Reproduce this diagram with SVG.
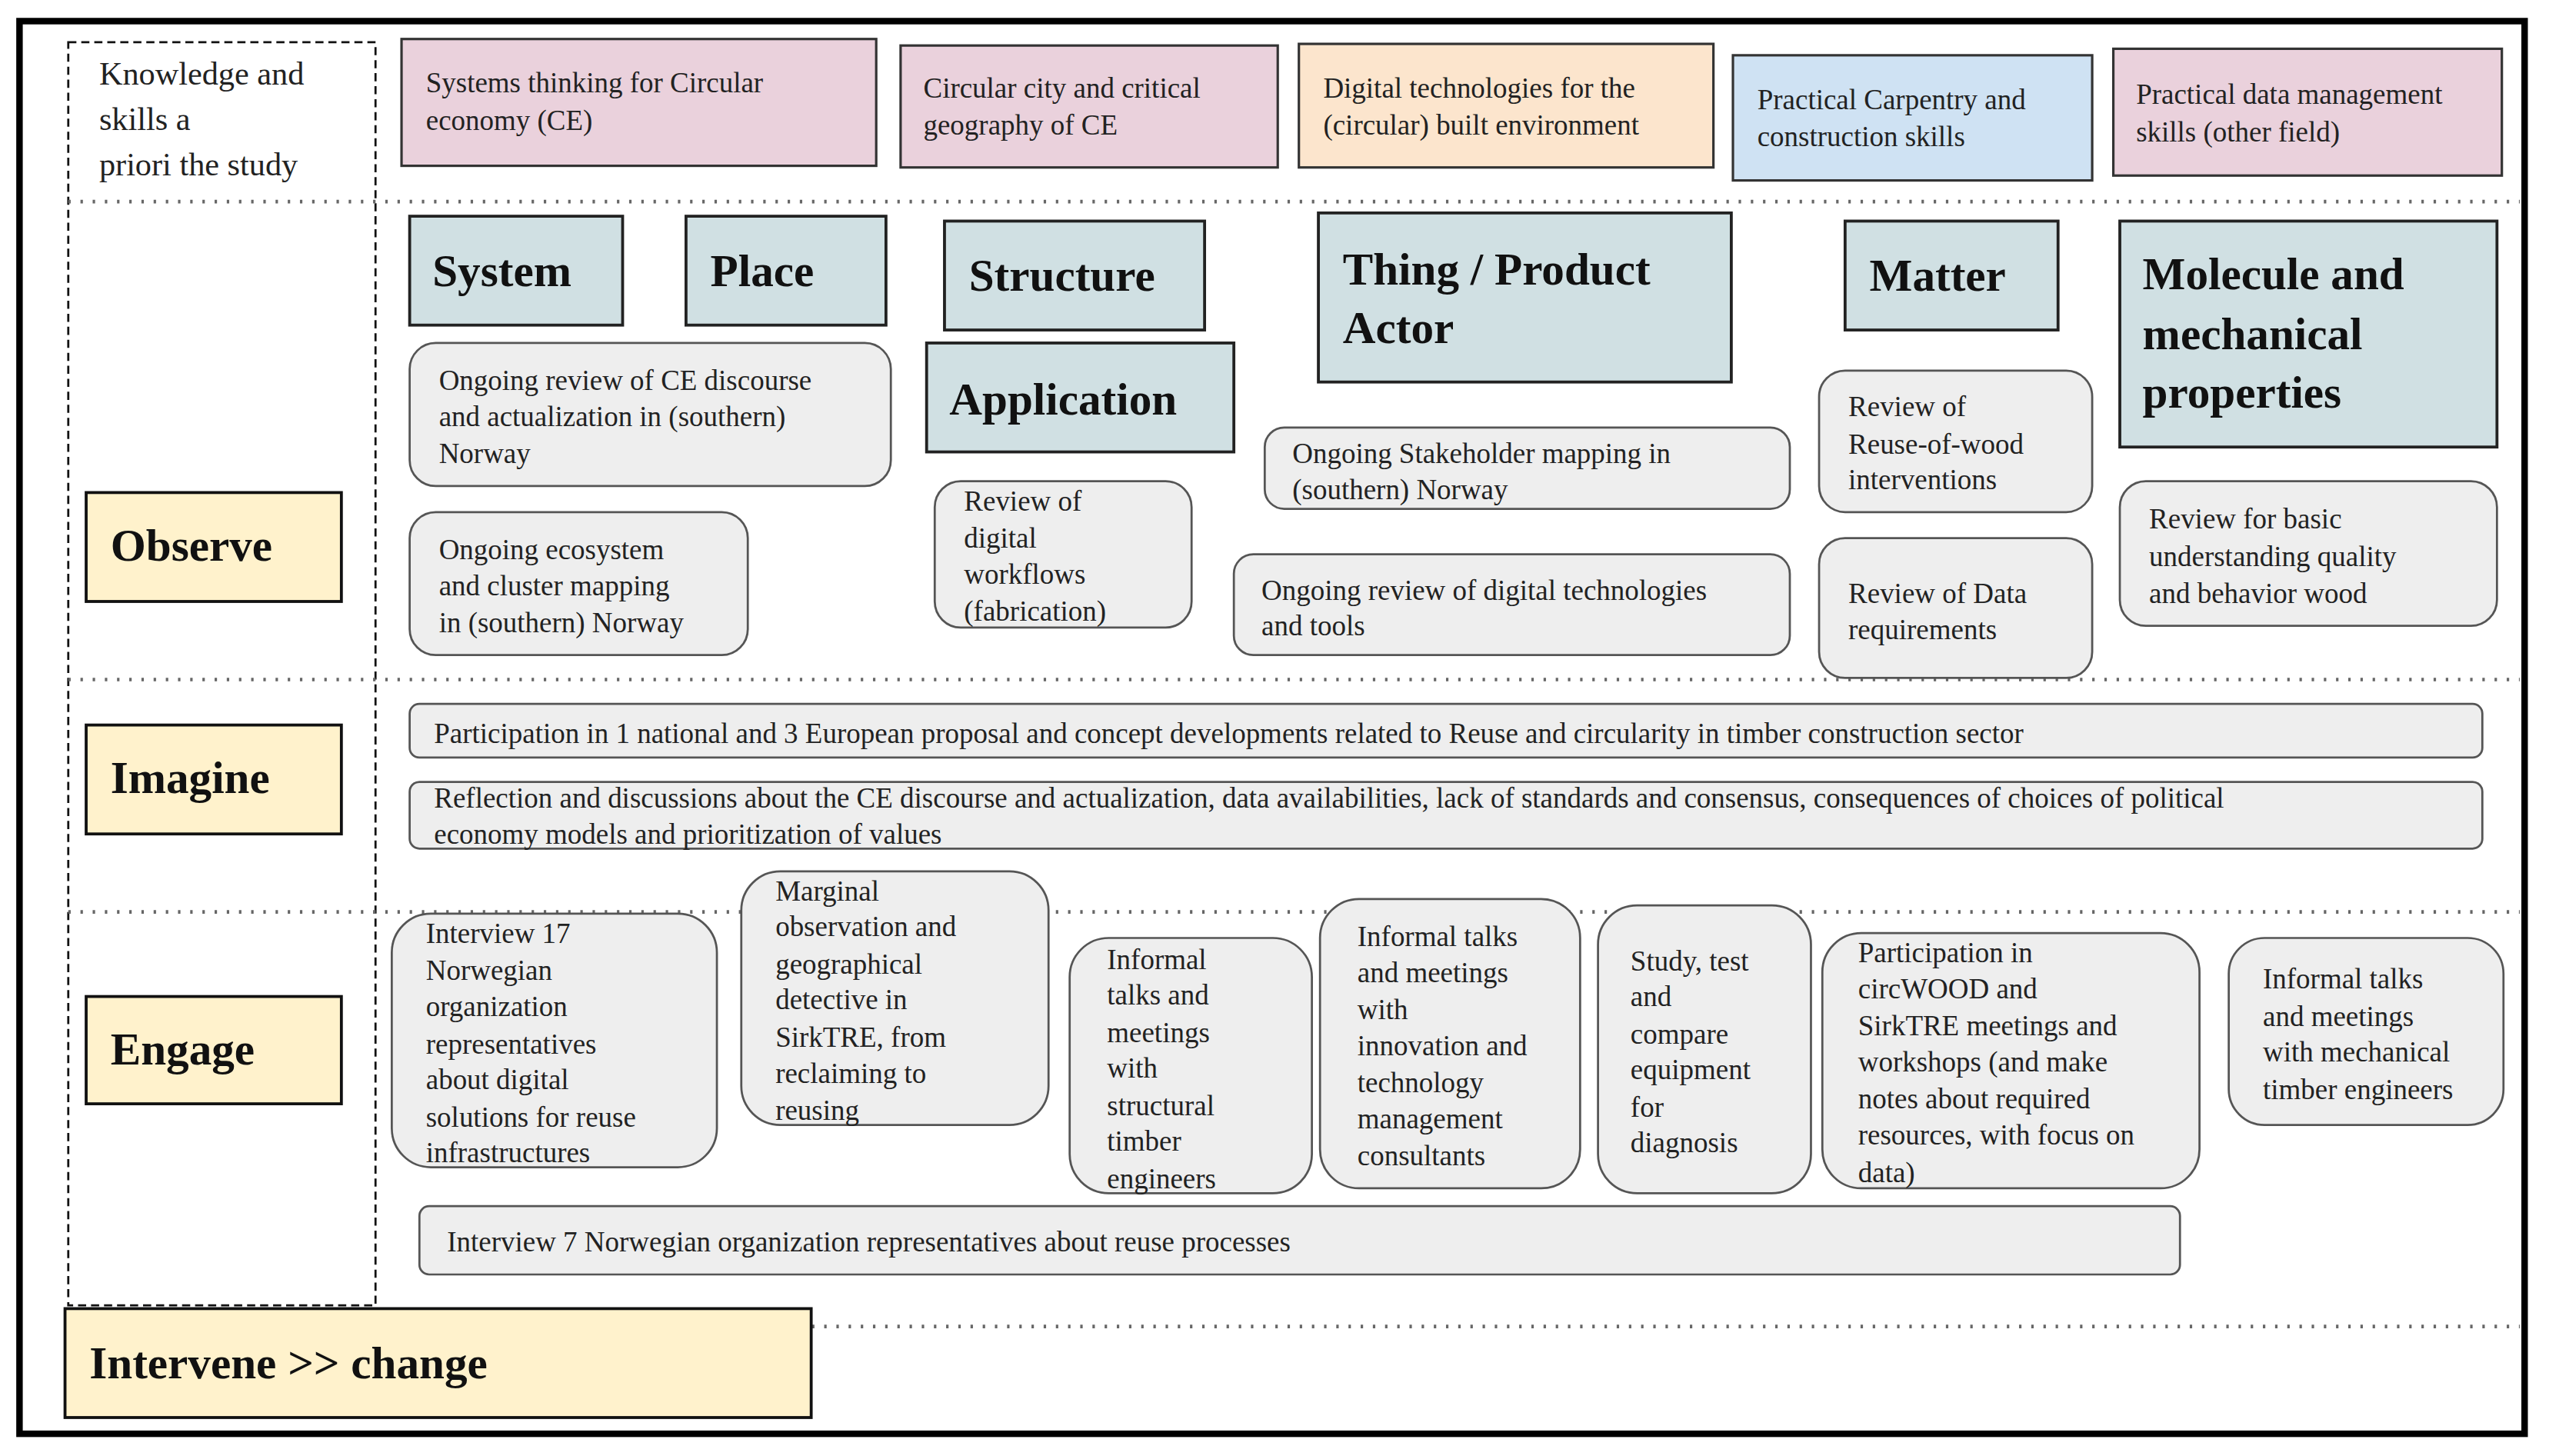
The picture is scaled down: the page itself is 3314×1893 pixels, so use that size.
<svg xmlns="http://www.w3.org/2000/svg" width="3314" height="1893" viewBox="0 0 3314 1893">
<style>
text{font-family:"Liberation Serif","Times New Roman",serif;fill:#222}
.t{font-size:17.5px}
.h{font-size:28px;font-weight:bold;fill:#111}
.k{font-size:20px}
.pink{fill:#ead1dc;stroke:#333;stroke-width:1.5}
.or{fill:#fce5cd;stroke:#333;stroke-width:1.5}
.bl{fill:#cfe2f3;stroke:#333;stroke-width:1.5}
.hd{fill:#d0e0e3;stroke:#222;stroke-width:1.8}
.st{fill:#fff2cc;stroke:#111;stroke-width:1.8}
.gr{fill:#eeeeee;stroke:#555;stroke-width:1.3}
.dot{stroke:#666;stroke-width:2.2;stroke-dasharray:1.5 6;fill:none}
</style>
<rect width="3314" height="1893" fill="#fff"/>
<g transform="scale(2.11352)">
<rect x="12" y="13" width="1541" height="869" fill="none" stroke="#000" stroke-width="4"/>
<g id="lines">
<rect x="42" y="26" width="189" height="777" fill="none" stroke="#111" stroke-width="1.3" stroke-dasharray="5 3"/>
<line class="dot" x1="42" y1="124" x2="1550" y2="124"/>
<line class="dot" x1="42" y1="418" x2="1550" y2="418"/>
<line class="dot" x1="42" y1="561" x2="1550" y2="561"/>
<line class="dot" x1="42" y1="816" x2="1550" y2="816"/>
</g>
<g id="knowledge"><text class="k" x="61" y="52">Knowledge and</text><text class="k" x="61" y="80">skills a</text><text class="k" x="61" y="108">priori the study</text></g>
<g id="k1"><rect class="pink" x="247" y="24" width="292" height="78"/><text class="t" x="262" y="57">Systems thinking for Circular</text><text class="t" x="262" y="80">economy (CE)</text></g>
<g id="k2"><rect class="pink" x="554" y="28" width="232" height="75"/><text class="t" x="568" y="60">Circular city and critical</text><text class="t" x="568" y="83">geography of CE</text></g>
<g id="k3"><rect class="or" x="799" y="27" width="255" height="76"/><text class="t" x="814" y="60">Digital technologies for the</text><text class="t" x="814" y="83">(circular) built environment</text></g>
<g id="k4"><rect class="bl" x="1066" y="34" width="221" height="77"/><text class="t" x="1081" y="67">Practical Carpentry and</text><text class="t" x="1081" y="90">construction skills</text></g>
<g id="k5"><rect class="pink" x="1300" y="30" width="239" height="78"/><text class="t" x="1314" y="64">Practical data management</text><text class="t" x="1314" y="87">skills (other field)</text></g>

<g id="system"><rect class="hd" x="252" y="133" width="131" height="67"/><text class="h" x="266" y="176">System</text></g>
<g id="place"><rect class="hd" x="422" y="133" width="123" height="67"/><text class="h" x="437" y="176">Place</text></g>
<g id="structure"><rect class="hd" x="581" y="136" width="160" height="67"/><text class="h" x="596" y="179">Structure</text></g>
<g id="application"><rect class="hd" x="570" y="211" width="189" height="67"/><text class="h" x="584" y="255">Application</text></g>
<g id="thing"><rect class="hd" x="811" y="131" width="254" height="104"/><text class="h" x="826" y="175">Thing / Product</text><text class="h" x="826" y="211">Actor</text></g>
<g id="matter"><rect class="hd" x="1135" y="136" width="131" height="67"/><text class="h" x="1150" y="179">Matter</text></g>
<g id="molecule"><rect class="hd" x="1304" y="136" width="232" height="139"/><text class="h" x="1318" y="178">Molecule and</text><text class="h" x="1318" y="215">mechanical</text><text class="h" x="1318" y="251">properties</text></g>

<g id="o1"><rect class="gr" x="252" y="211" width="296" height="88" rx="16"/><text class="t" x="270" y="240">Ongoing review of CE discourse</text><text class="t" x="270" y="262">and actualization in (southern)</text><text class="t" x="270" y="285">Norway</text></g>
<g id="o2"><rect class="gr" x="252" y="315" width="208" height="88" rx="16"/><text class="t" x="270" y="344">Ongoing ecosystem</text><text class="t" x="270" y="366">and cluster mapping</text><text class="t" x="270" y="389">in (southern) Norway</text></g>
<g id="o3"><rect class="gr" x="575" y="296" width="158" height="90" rx="16"/><text class="t" x="593" y="314">Review of</text><text class="t" x="593" y="337">digital</text><text class="t" x="593" y="359">workflows</text><text class="t" x="593" y="382">(fabrication)</text></g>
<g id="o4"><rect class="gr" x="778" y="263" width="323" height="50" rx="12"/><text class="t" x="795" y="285">Ongoing Stakeholder mapping in</text><text class="t" x="795" y="307">(southern) Norway</text></g>
<g id="o5"><rect class="gr" x="759" y="341" width="342" height="62" rx="12"/><text class="t" x="776" y="369">Ongoing review of digital technologies</text><text class="t" x="776" y="391">and tools</text></g>
<g id="o6"><rect class="gr" x="1119" y="228" width="168" height="87" rx="16"/><text class="t" x="1137" y="256">Review of</text><text class="t" x="1137" y="279">Reuse-of-wood</text><text class="t" x="1137" y="301">interventions</text></g>
<g id="o7"><rect class="gr" x="1119" y="331" width="168" height="86" rx="16"/><text class="t" x="1137" y="371">Review of Data</text><text class="t" x="1137" y="393">requirements</text></g>
<g id="o8"><rect class="gr" x="1304" y="296" width="232" height="89" rx="16"/><text class="t" x="1322" y="325">Review for basic</text><text class="t" x="1322" y="348">understanding quality</text><text class="t" x="1322" y="371">and behavior wood</text></g>

<g id="observe"><rect class="st" x="53" y="303" width="157" height="67"/><text class="h" x="68" y="345">Observe</text></g>
<g id="imagine"><rect class="st" x="53" y="446" width="157" height="67"/><text class="h" x="68" y="488">Imagine</text></g>
<g id="engage"><rect class="st" x="53" y="613" width="157" height="66"/><text class="h" x="68" y="655">Engage</text></g>
<g id="intervene"><rect class="st" x="40" y="805" width="459" height="67"/><text class="h" x="55" y="848">Intervene &gt;&gt; change</text></g>

<g id="i1"><rect class="gr" x="252" y="433" width="1275" height="33" rx="6"/><text class="t" x="267" y="457">Participation in 1 national and 3 European proposal and concept developments related to Reuse and circularity in timber construction sector</text></g>
<g id="i2"><rect class="gr" x="252" y="481" width="1275" height="41" rx="6"/><text class="t" x="267" y="497">Reflection and discussions about the CE discourse and actualization, data availabilities, lack of standards and consensus, consequences of choices of political</text><text class="t" x="267" y="519">economy models and prioritization of values</text></g>

<g id="e1"><rect class="gr" x="241" y="562" width="200" height="156" rx="24"/><text class="t" x="262" y="580">Interview 17</text><text class="t" x="262" y="603">Norwegian</text><text class="t" x="262" y="625">organization</text><text class="t" x="262" y="648">representatives</text><text class="t" x="262" y="670">about digital</text><text class="t" x="262" y="693">solutions for reuse</text><text class="t" x="262" y="715">infrastructures</text></g>
<g id="e2"><rect class="gr" x="456" y="536" width="189" height="156" rx="24"/><text class="t" x="477" y="554">Marginal</text><text class="t" x="477" y="576">observation and</text><text class="t" x="477" y="599">geographical</text><text class="t" x="477" y="621">detective in</text><text class="t" x="477" y="644">SirkTRE, from</text><text class="t" x="477" y="666">reclaiming to</text><text class="t" x="477" y="689">reusing</text></g>
<g id="e3"><rect class="gr" x="658" y="577" width="149" height="157" rx="24"/><text class="t" x="681" y="596">Informal</text><text class="t" x="681" y="618">talks and</text><text class="t" x="681" y="641">meetings</text><text class="t" x="681" y="663">with</text><text class="t" x="681" y="686">structural</text><text class="t" x="681" y="708">timber</text><text class="t" x="681" y="731">engineers</text></g>
<g id="e4"><rect class="gr" x="812" y="553" width="160" height="178" rx="24"/><text class="t" x="835" y="582">Informal talks</text><text class="t" x="835" y="604">and meetings</text><text class="t" x="835" y="627">with</text><text class="t" x="835" y="649">innovation and</text><text class="t" x="835" y="672">technology</text><text class="t" x="835" y="694">management</text><text class="t" x="835" y="717">consultants</text></g>
<g id="e5"><rect class="gr" x="983" y="557" width="131" height="177" rx="24"/><text class="t" x="1003" y="597">Study, test</text><text class="t" x="1003" y="619">and</text><text class="t" x="1003" y="642">compare</text><text class="t" x="1003" y="664">equipment</text><text class="t" x="1003" y="687">for</text><text class="t" x="1003" y="709">diagnosis</text></g>
<g id="e6"><rect class="gr" x="1121" y="574" width="232" height="157" rx="24"/><text class="t" x="1143" y="592">Participation in</text><text class="t" x="1143" y="614">circWOOD and</text><text class="t" x="1143" y="637">SirkTRE meetings and</text><text class="t" x="1143" y="659">workshops (and make</text><text class="t" x="1143" y="682">notes about required</text><text class="t" x="1143" y="704">resources, with focus on</text><text class="t" x="1143" y="727">data)</text></g>
<g id="e7"><rect class="gr" x="1371" y="577" width="169" height="115" rx="22"/><text class="t" x="1392" y="608">Informal talks</text><text class="t" x="1392" y="631">and meetings</text><text class="t" x="1392" y="653">with mechanical</text><text class="t" x="1392" y="676">timber engineers</text></g>
<g id="e8"><rect class="gr" x="258" y="742" width="1083" height="42" rx="6"/><text class="t" x="275" y="770">Interview 7 Norwegian organization representatives about reuse processes</text></g>
</g>
</svg>
